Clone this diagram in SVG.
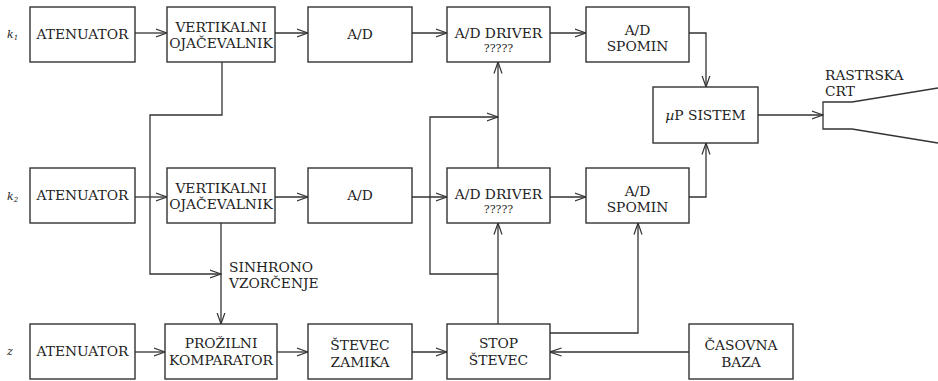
<svg xmlns="http://www.w3.org/2000/svg" width="938" height="381" viewBox="0 0 938 381">
<defs>
<style>
.box{fill:#fff;stroke:#333;stroke-width:1.4}
.ln{fill:none;stroke:#333;stroke-width:1.3}
.arr{marker-end:url(#ah)}
text{font-family:"DejaVu Serif","Liberation Serif",serif;font-size:13.8px;fill:#222;text-anchor:middle}
.q{font-size:11px}
.lbl{font-style:italic;font-size:11px;text-anchor:start}
.st{text-anchor:start}
</style>
<marker id="ah" viewBox="0 0 12 10" refX="11.5" refY="5" markerWidth="12" markerHeight="10" markerUnits="userSpaceOnUse" orient="auto">
<path d="M0,1 L11.5,5 L0,9" fill="none" stroke="#333" stroke-width="1.2"/>
</marker>
</defs>
<rect width="938" height="381" fill="#fff"/>
<g id="labels">
<text class="lbl" x="7" y="38">k<tspan font-size="7" dy="2">1</tspan></text>
<text class="lbl" x="7" y="200">k<tspan font-size="7" dy="2">2</tspan></text>
<text class="lbl" x="7" y="355">z</text>
</g>
<g id="connectors">
<path class="ln arr" d="M135,33 H167"/>
<path class="ln arr" d="M275,33 H308"/>
<path class="ln arr" d="M412,33 H447"/>
<path class="ln arr" d="M550,33 H586"/>
<path class="ln arr" d="M689,33 H706 V87"/>
<path class="ln arr" d="M135,197 H167"/>
<path class="ln arr" d="M275,197 H308"/>
<path class="ln arr" d="M412,197 H447"/>
<path class="ln arr" d="M550,197 H586"/>
<path class="ln arr" d="M689,197 H706 V143"/>
<path class="ln arr" d="M758,115 H823"/>
<path class="ln arr" d="M222,62 V115 H150 V274 H221"/>
<path class="ln arr" d="M221,223 V324"/>
<path class="ln arr" d="M135,352 H165"/>
<path class="ln arr" d="M277,352 H308"/>
<path class="ln arr" d="M412,352 H447"/>
<path class="ln arr" d="M689,352 H550"/>
<path class="ln arr" d="M498,324 V223"/>
<path class="ln arr" d="M498,168 V62"/>
<path class="ln arr" d="M498,274 H430 V117 H498"/>
<path class="ln arr" d="M550,333 H638 V223"/>
</g>
<g id="atenuator1"><rect class="box" x="30" y="7" width="105" height="55"/><text x="82.5" y="39">ATENUATOR</text></g>
<g id="vert1"><rect class="box" x="167" y="7" width="108" height="55"/><text x="221" y="32">VERTIKALNI</text><text x="221" y="48">OJAČEVALNIK</text></g>
<g id="ad1"><rect class="box" x="308" y="7" width="104" height="55"/><text x="360" y="39">A/D</text></g>
<g id="driver1"><rect class="box" x="447" y="7" width="103" height="55"/><text x="498.5" y="38">A/D DRIVER</text><text class="q" x="498.5" y="52">?????</text></g>
<g id="spomin1"><rect class="box" x="586" y="7" width="103" height="55"/><text x="637.5" y="35">A/D</text><text x="637.5" y="51">SPOMIN</text></g>
<g id="atenuator2"><rect class="box" x="30" y="168" width="105" height="55"/><text x="82.5" y="200">ATENUATOR</text></g>
<g id="vert2"><rect class="box" x="167" y="168" width="108" height="55"/><text x="221" y="193">VERTIKALNI</text><text x="221" y="209">OJAČEVALNIK</text></g>
<g id="ad2"><rect class="box" x="308" y="168" width="104" height="55"/><text x="360" y="200">A/D</text></g>
<g id="driver2"><rect class="box" x="447" y="168" width="103" height="55"/><text x="498.5" y="199">A/D DRIVER</text><text class="q" x="498.5" y="213">?????</text></g>
<g id="spomin2"><rect class="box" x="586" y="168" width="103" height="55"/><text x="637.5" y="196">A/D</text><text x="637.5" y="212">SPOMIN</text></g>
<g id="up"><rect class="box" x="653" y="87" width="105" height="56"/><text x="705.5" y="120"><tspan font-style="italic">µ</tspan>P SISTEM</text></g>
<g id="crt"><path class="ln" d="M852,102 H823 V129 H852 M852,102 L938,88 M852,129 L938,143"/><text class="st" x="825" y="80">RASTRSKA</text><text class="st" x="825" y="96">CRT</text></g>
<g id="sinhrono"><text class="st" x="229" y="272">SINHRONO</text><text class="st" x="229" y="288">VZORČENJE</text></g>
<g id="atenuator3"><rect class="box" x="30" y="324" width="105" height="55"/><text x="82.5" y="356">ATENUATOR</text></g>
<g id="prozilni"><rect class="box" x="165" y="324" width="112" height="55"/><text x="221" y="348">PROŽILNI</text><text x="221" y="365">KOMPARATOR</text></g>
<g id="zamik"><rect class="box" x="308" y="324" width="104" height="55"/><text x="360" y="350">ŠTEVEC</text><text x="360" y="367">ZAMIKA</text></g>
<g id="stop"><rect class="box" x="447" y="324" width="103" height="55"/><text x="498.5" y="348">STOP</text><text x="498.5" y="365">ŠTEVEC</text></g>
<g id="casovna"><rect class="box" x="689" y="324" width="104" height="55"/><text x="741" y="350">ČASOVNA</text><text x="741" y="367">BAZA</text></g>
</svg>
